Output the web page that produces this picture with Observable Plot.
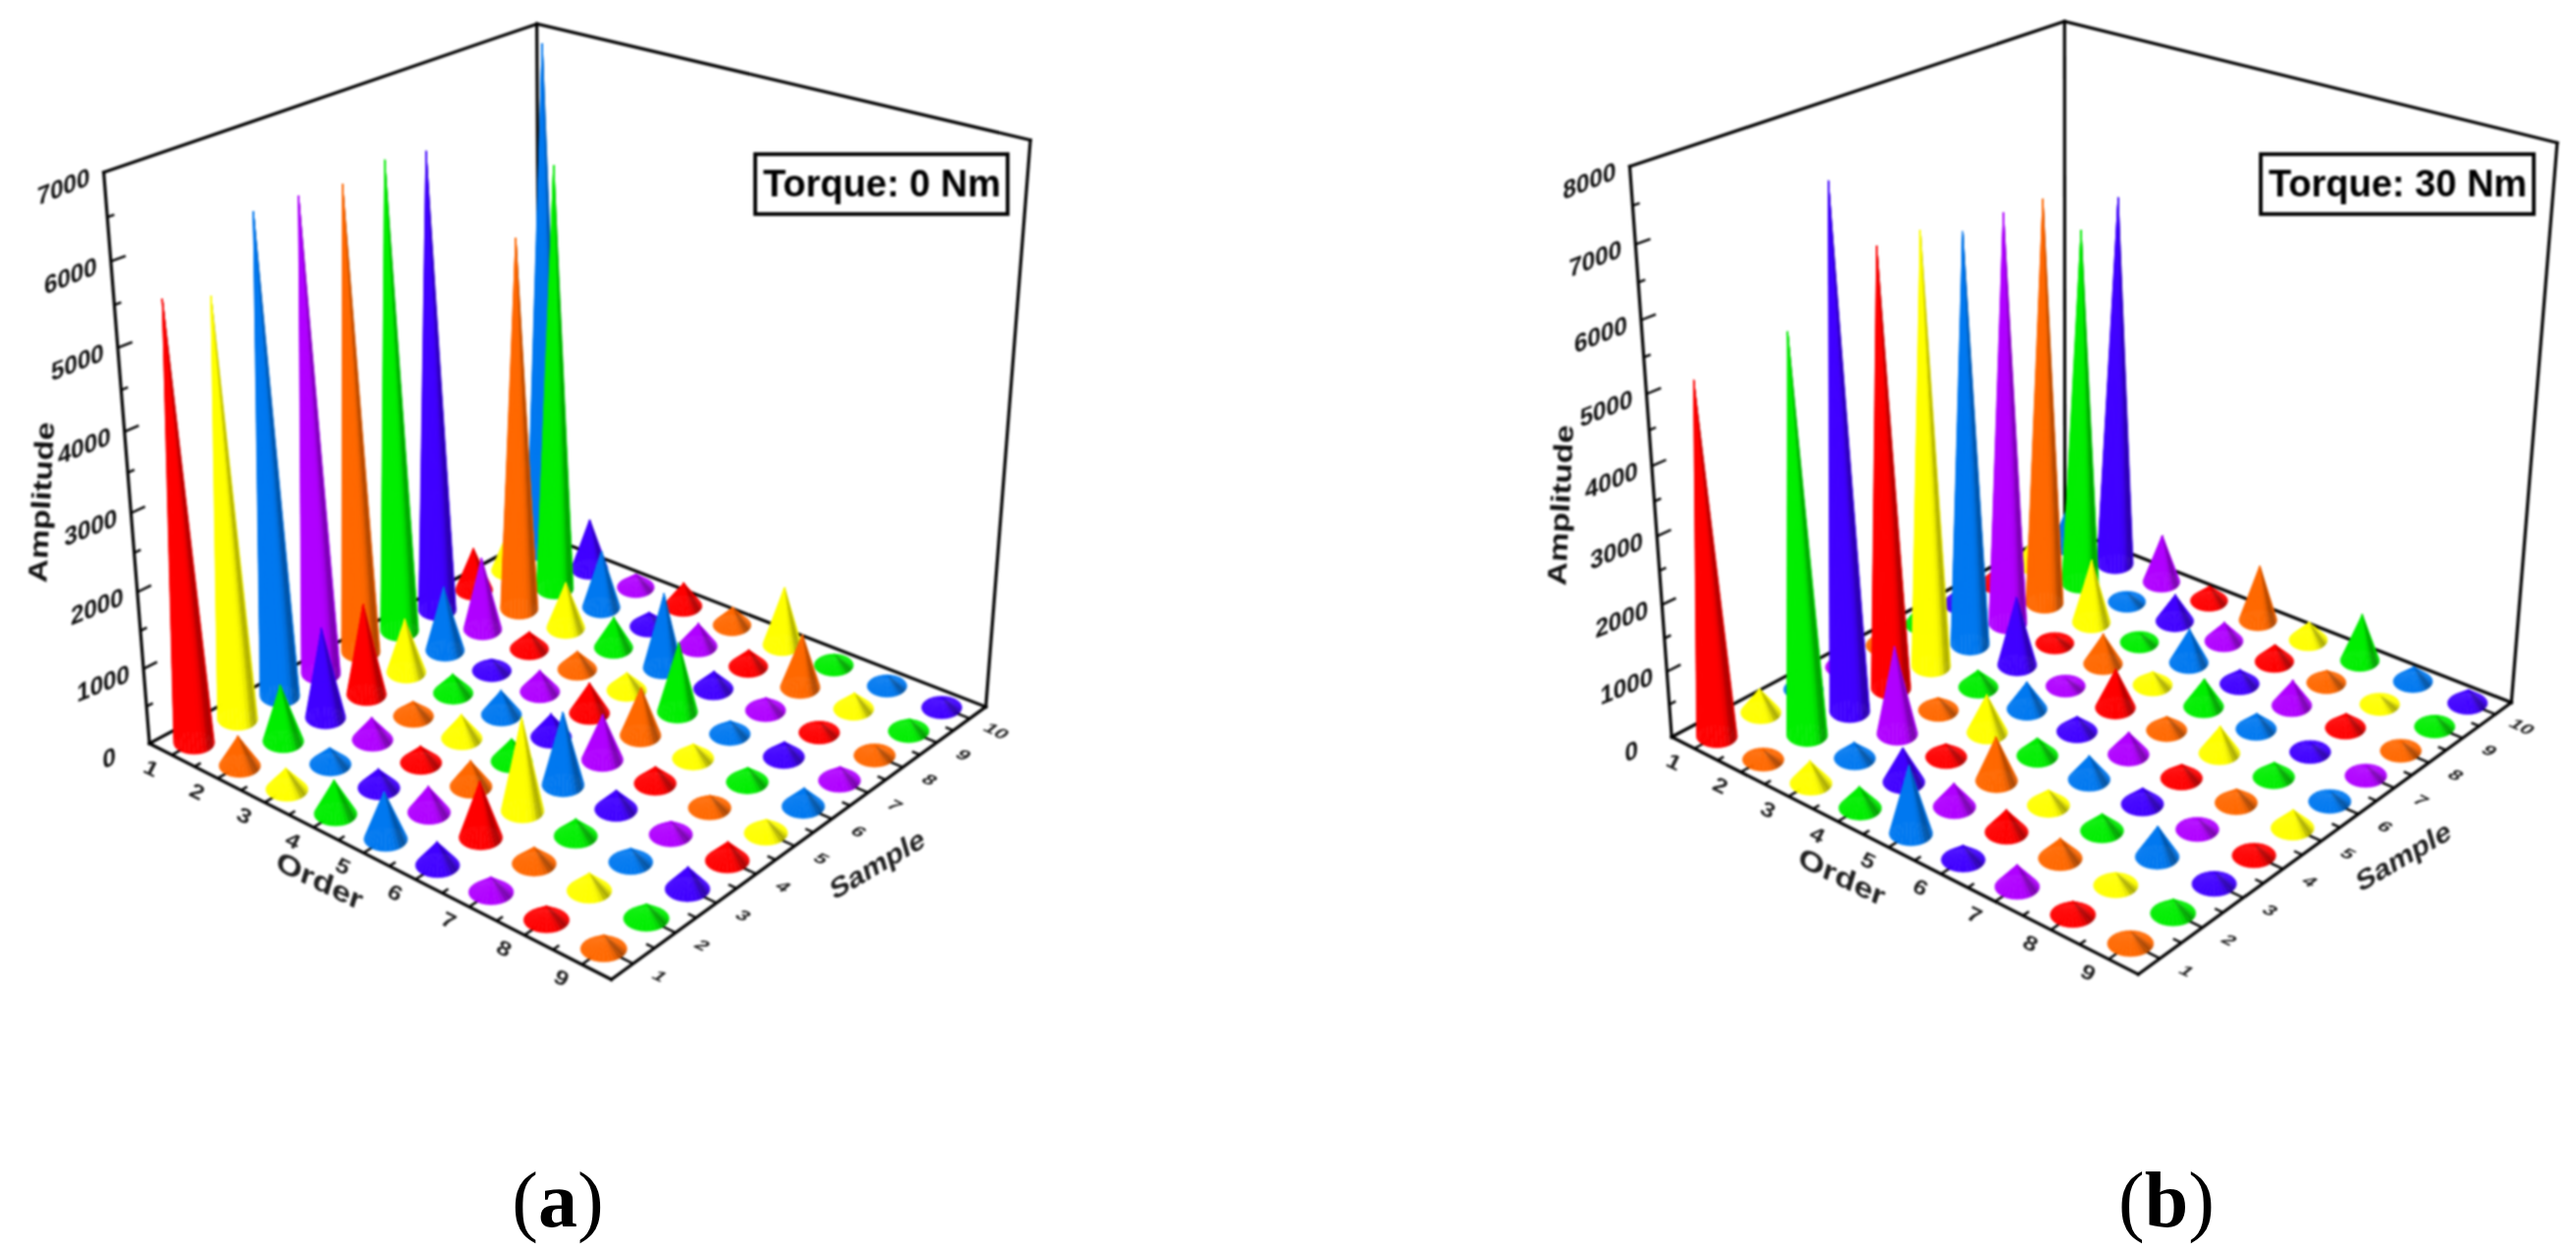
<!DOCTYPE html>
<html>
<head>
<meta charset="utf-8">
<script src="https://cdn.jsdelivr.net/npm/d3@7"></script>
<script src="https://cdn.jsdelivr.net/npm/@observablehq/plot@0.6"></script>
<style>
html,body{margin:0;padding:0;background:#fff;width:2623px;height:1274px;overflow:hidden}
#row{display:flex;align-items:flex-start;width:2623px;height:1274px;position:relative}
#row svg{flex:none;display:block}
.cap{position:absolute;top:1162px;font-family:"Liberation Serif",serif;font-size:80px;line-height:120px;transform:translateX(-50%);color:#000}
.cap b{font-weight:700}
</style>
</head>
<body>
<div id="row"></div>
<script>
// ---------- data ----------
const orders = [1,2,3,4,5,6,7,8,9];
const samples = [1,2,3,4,5,6,7,8,9,10];
const palette = ["#ff0000","#ff6800","#ffff00","#00ee00","#0078f0","#4000ff","#b000ff"];
const ticksA = [0,1000,2000,3000,4000,5000,6000,7000];
const ticksB = [0,1000,2000,3000,4000,5000,6000,7000,8000];

// rows: sample 1..10, columns: order 1..9
const torque0 = [
  [5560,395,280,440,610,300,190,175,170],
  [5370,750,220,250,340,720,210,220,180],
  [6150,1200,300,220,340,1200,220,175,280],
  [6140,1230,200,320,300,950,250,170,240],
  [6080,730,260,330,310,600,220,160,175],
  [6180,880,160,290,410,640,190,190,240],
  [6100,1000,240,250,240,930,175,200,180],
  [600,5000,640,420,1020,240,170,140,130],
  [620,5720,800,200,320,230,720,215,160],
  [6900,720,190,330,250,800,150,140,130]
];
const torque30 = [
  [5180,150,340,320,1000,210,320,190,175],
  [370,5820,240,520,350,330,290,180,200],
  [300,7580,1330,200,660,230,250,450,170],
  [300,6490,195,580,270,360,240,160,165],
  [300,6470,265,420,230,340,210,205,270],
  [400,6220,1070,120,600,210,410,220,150],
  [300,6250,120,470,205,430,240,135,150],
  [300,6220,1000,150,530,220,390,220,140],
  [500,5540,150,430,300,270,190,130,170],
  [750,5800,770,240,880,285,730,230,210]
];

// ---------- camera of each panel (page pixels) ----------
const camA = {L:[151.7,756.7],F:[622,997],R:[1003.3,719.3],B:[549,543],V:[580,6104],topY:175,zMax:7000};
const camB = {L:[1701.7,750],F:[2176.7,991.7],R:[2556.7,715],B:[2102,537],V:[2105,6233],topY:169,zMax:8000};

function camera(c){
  const [x0,y0]=c.L,[x1,y1]=c.F,[x2,y2]=c.R,[x3,y3]=c.B;
  const dx1=x1-x2,dx2=x3-x2,sx=x0-x1+x2-x3,dy1=y1-y2,dy2=y3-y2,sy=y0-y1+y2-y3;
  const det=dx1*dy2-dx2*dy1;
  const g=(sx*dy2-dx2*sy)/det,h=(dx1*sy-sx*dy1)/det;
  const a=x1-x0+g*x1,b=x3-x0+h*x3,d=y1-y0+g*y1,e=y3-y0+h*y3;
  const k=((y0-c.topY)/(c.V[1]-c.topY))/c.zMax;
  return (o,s,z=0)=>{
    const u=(o-0.5)/9,v=(s-0.5)/10,t=-k*z;
    const X=a*u+b*v+x0+t*c.V[0],Y=d*u+e*v+y0+t*c.V[1],W=g*u+h*v+1+t;
    return {x:X/W,y:Y/W,w:g*u+h*v+1};
  };
}

function coneFacets(values,P){
  const rows=[];let id=0;const n=28,R=20.7,ratio=0.56;
  const base=(i)=>i*2*Math.PI/n;
  for(const s of [...samples].reverse())for(const o of orders){
    const val=values[s-1][o-1];
    const c=palette[(2*(s-1)+(o-1))%palette.length];
    const b=P(o,s,0),tip=P(o,s,val),rx=R/b.w,ry=rx*ratio;
    const seq=[...d3.range(n/2,n),...d3.range(0,n/2)];
    for(const i of seq){
      const p0=base(i),p1=base(i+1),mid=(p0+p1)/2;
      const deg=mid*180/Math.PI;
      let col=c;
      if(i<n/2){
        const f=1-0.34*Math.exp(-Math.pow((deg-34)/20,2));
        const q=d3.rgb(c);
        col=d3.rgb(q.r*f,q.g*f,q.b*f).formatHex();
      }
      id++;
      rows.push({id,c:col,x:tip.x,y:tip.y});
      rows.push({id,c:col,x:b.x+rx*Math.cos(p0),y:b.y+ry*Math.sin(p0)});
      rows.push({id,c:col,x:b.x+rx*Math.cos(p1),y:b.y+ry*Math.sin(p1)});
    }
  }
  return rows;
}

function panel(values,cam,ticks,dom,box,label,titles){
  const P=camera(cam),Z=cam.zMax;
  const oMin=0.5,oMax=9.5,sMin=0.5,sMax=10.5;
  const edges=[
    [[oMin,sMin,0],[oMin,sMin,Z]],[[oMin,sMin,Z],[oMin,sMax,Z]],[[oMin,sMax,Z],[oMax,sMax,Z]],
    [[oMax,sMax,Z],[oMax,sMax,0]],[[oMax,sMax,0],[oMin,sMax,0]],[[oMin,sMax,0],[oMin,sMin,0]],
    [[oMin,sMax,0],[oMin,sMax,Z]],[[oMin,sMin,0],[oMax,sMin,0]],[[oMax,sMin,0],[oMax,sMax,0]]
  ];
  const frame=edges.flatMap((e,i)=>e.map(p=>({i,...P(...p)})));
  const oTicks=d3.range(1,9.01,0.5).map(o=>({a:P(o,sMin,0),b:P(o,sMin+(o%1?0.14:0.28),0)}));
  const sTicks=d3.range(1,10.01,0.5).map(s=>({a:P(oMax,s,0),b:P(oMax-(s%1?0.14:0.28),s,0)}));
  const zStep=500;
  const zTicks=d3.range(zStep,Z-1,zStep).map(z=>({a:P(oMin,sMin,z),b:P(oMin,sMin+(z%1000?0.14:0.3),z)}));
  const W=dom[1]-dom[0];
  const plot=Plot.plot({
    width:W,height:1140,margin:0,
    x:{domain:dom,range:[0,W],axis:null},
    y:{domain:[0,1140],range:[0,1140],axis:null},
    color:{type:"identity"},
    style:{background:"#fff",filter:"blur(0.8px)",overflow:"visible"},
    marks:[
      Plot.line(frame,{x:"x",y:"y",z:"i",stroke:"#000",strokeWidth:3.2,strokeLinecap:"square"}),
      Plot.link(oTicks.concat(sTicks,zTicks),{x1:d=>d.a.x,y1:d=>d.a.y,x2:d=>d.b.x,y2:d=>d.b.y,stroke:"#000",strokeWidth:2.4}),
      Plot.line(coneFacets(values,P),{x:"x",y:"y",z:"id",fill:"c",stroke:"c",strokeWidth:0.6}),
      Plot.text(ticks,{x:z=>P(oMin,sMin,z).x-41,y:z=>P(oMin,sMin,z).y+15,text:z=>String(z),fontSize:26,fontWeight:700,fontFamily:"Liberation Sans",fill:"#111",className:"zlab"}),
      Plot.text(orders,{x:o=>P(o,sMin,0).x-21,y:o=>P(o,sMin,0).y+14,text:o=>String(o),fontSize:23,fontWeight:700,fontFamily:"Liberation Sans",fill:"#222",className:"olab"}),
      Plot.text(samples,{x:s=>P(oMax,s,0).x+27,y:s=>P(oMax,s,0).y+13,text:s=>String(s),fontSize:22,fontWeight:700,fontFamily:"Liberation Sans",fill:"#222",className:"slab"}),
      Plot.text(["Amplitude"],{x:titles.amp[0],y:titles.amp[1],text:d=>d,fontSize:27,fontWeight:700,fontFamily:"Liberation Sans",fill:"#111",className:"tamp"}),
      Plot.text(["Order"],{x:titles.ord[0],y:titles.ord[1],text:d=>d,fontSize:27,fontWeight:700,fontFamily:"Liberation Sans",fill:"#222",className:"tord"}),
      Plot.text(["Sample"],{x:titles.sam[0],y:titles.sam[1],text:d=>d,fontSize:27,fontWeight:700,fontFamily:"Liberation Sans",fill:"#222",className:"tsam"}),
      Plot.rect([box],{x1:d=>d[0],x2:d=>d[2],y1:d=>d[1],y2:d=>d[3],fill:"#fff",stroke:"#000",strokeWidth:3.8}),
      Plot.text([label],{x:(box[0]+box[2])/2,y:(box[1]+box[3])/2,text:d=>d,fontSize:38,fontWeight:700,fontFamily:"Liberation Sans",fill:"#000"})
    ]
  });
  const warp=(cls,m)=>plot.querySelectorAll("."+cls+" text").forEach(t=>{
    t.setAttribute("transform",(t.getAttribute("transform")||"")+` matrix(${m.join(" ")})`);
  });
  warp("zlab",[0.93,-0.37,0,1,0,0]);
  warp("olab",[0.98,0.48,-0.42,0.82,0,0]);
  warp("slab",[0.86,0.42,-0.62,0.5,0,0]);
  warp("tamp",[0.06,-1.24,1.0,0.05,0,0]);
  warp("tord",[1.18,0.58,-0.3,1.0,0,0]);
  warp("tsam",[0.98,-0.58,0.3,1.0,0,0]);
  return plot;
}

const row=document.getElementById("row");
row.append(
  panel(torque0,camA,ticksA,[0,1311],[769,157,1026,218],"Torque: 0 Nm",{amp:[42,511],ord:[325,897],sam:[893,880]}),
  panel(torque30,camB,ticksB,[1311,2623],[2302,157,2580,218],"Torque: 30 Nm",{amp:[1589,514],ord:[1875,893],sam:[2447,872]})
);
const capA=document.createElement("div");capA.className="cap";capA.style.left="568px";capA.innerHTML="(<b>a</b>)";
const capB=document.createElement("div");capB.className="cap";capB.style.left="2206px";capB.innerHTML="(<b>b</b>)";
row.append(capA,capB);
</script>
</body>
</html>
